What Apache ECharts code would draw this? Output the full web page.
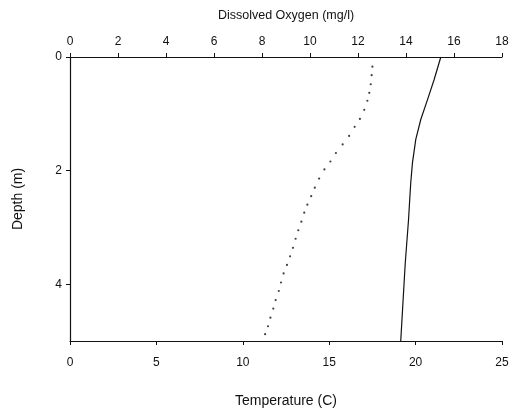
<!DOCTYPE html>
<html>
<head>
<meta charset="utf-8">
<script src="https://cdn.jsdelivr.net/npm/echarts@6/dist/echarts.min.js"></script>
<style>
  html, body { margin: 0; padding: 0; background: #fff; }
  #chart { width: 513px; height: 413px; }
</style>
</head>
<body>
<div id="chart"></div>
<script>
// Dissolved oxygen profile (mg/l) against depth (m)
const oxygenDepth = [0.17, 0.32, 0.48, 0.63, 0.77, 0.93, 1.09, 1.23, 1.39, 1.54, 1.69, 1.84, 1.98, 2.14, 2.30, 2.45, 2.60, 2.74, 2.90, 3.05, 3.20, 3.36, 3.51, 3.66, 3.81, 3.97, 4.12, 4.28, 4.43, 4.59, 4.74, 4.88];
const oxygenValue = [12.60, 12.57, 12.53, 12.47, 12.39, 12.26, 12.08, 11.86, 11.63, 11.36, 11.08, 10.85, 10.60, 10.38, 10.20, 10.05, 9.89, 9.76, 9.64, 9.51, 9.40, 9.29, 9.17, 9.04, 8.90, 8.79, 8.70, 8.57, 8.47, 8.35, 8.25, 8.13];

// Water temperature profile (C) against depth (m)
const tempDepth = [0, 0.40, 0.75, 1.10, 1.45, 1.86, 2.21, 2.51, 2.87, 3.63, 5.0];
const tempValue = [21.46, 21.07, 20.69, 20.30, 20.01, 19.82, 19.72, 19.66, 19.59, 19.40, 19.14];

const font = 'Liberation Sans, Arial, sans-serif';
const ink = '#111';

const chart = echarts.init(document.getElementById('chart'));

const axisCommon = {
  axisLine: { show: true, onZero: false, lineStyle: { color: ink, width: 1 } },
  axisTick: { show: true, inside: false, length: 4, lineStyle: { color: ink } },
  splitLine: { show: false },
  axisLabel: { color: ink, fontFamily: font, fontSize: 12 },
  nameTextStyle: { color: ink, fontFamily: font }
};

chart.setOption({
  animation: false,
  backgroundColor: '#fff',
  grid: { left: 70, right: 11, top: 57, bottom: 69, show: false },
  xAxis: [
    Object.assign({}, axisCommon, {
      type: 'value', position: 'bottom', min: 0, max: 25, interval: 5,
      name: 'Temperature (C)', nameLocation: 'middle', nameGap: 53,
      nameTextStyle: { color: ink, fontFamily: font, fontSize: 14 },
      axisLabel: Object.assign({}, axisCommon.axisLabel, { margin: 16 })
    }),
    Object.assign({}, axisCommon, {
      type: 'value', position: 'top', min: 0, max: 18, interval: 2,
      name: 'Dissolved Oxygen (mg/l)', nameLocation: 'middle', nameGap: 35,
      nameTextStyle: { color: ink, fontFamily: font, fontSize: 12.5 },
      axisLabel: Object.assign({}, axisCommon.axisLabel, { margin: 9 })
    })
  ],
  yAxis: [
    Object.assign({}, axisCommon, {
      type: 'value', inverse: true, min: 0, max: 5, interval: 2,
      name: 'Depth (m)', nameLocation: 'middle', nameGap: 45,
      nameTextStyle: { color: ink, fontFamily: font, fontSize: 14 },
      axisLabel: Object.assign({}, axisCommon.axisLabel, { showMaxLabel: false, margin: 8 })
    }),
    {
      type: 'value', inverse: true, min: 0, max: 5, position: 'right',
      axisLine: { show: true, lineStyle: { color: ink, width: 1.2 } },
      axisTick: { show: false }, axisLabel: { show: false }, splitLine: { show: false }
    }
  ],
  series: [
    {
      name: 'Dissolved Oxygen',
      type: 'scatter',
      xAxisIndex: 1, yAxisIndex: 0,
      symbol: 'circle', symbolSize: 2.2,
      itemStyle: { color: ink },
      data: oxygenValue.map((v, i) => [v, oxygenDepth[i]])
    },
    {
      name: 'Temperature',
      type: 'line',
      xAxisIndex: 0, yAxisIndex: 0,
      smooth: false, showSymbol: false,
      lineStyle: { color: ink, width: 1.2 },
      data: tempValue.map((v, i) => [v, tempDepth[i]])
    }
  ]
});
</script>
</body>
</html>
